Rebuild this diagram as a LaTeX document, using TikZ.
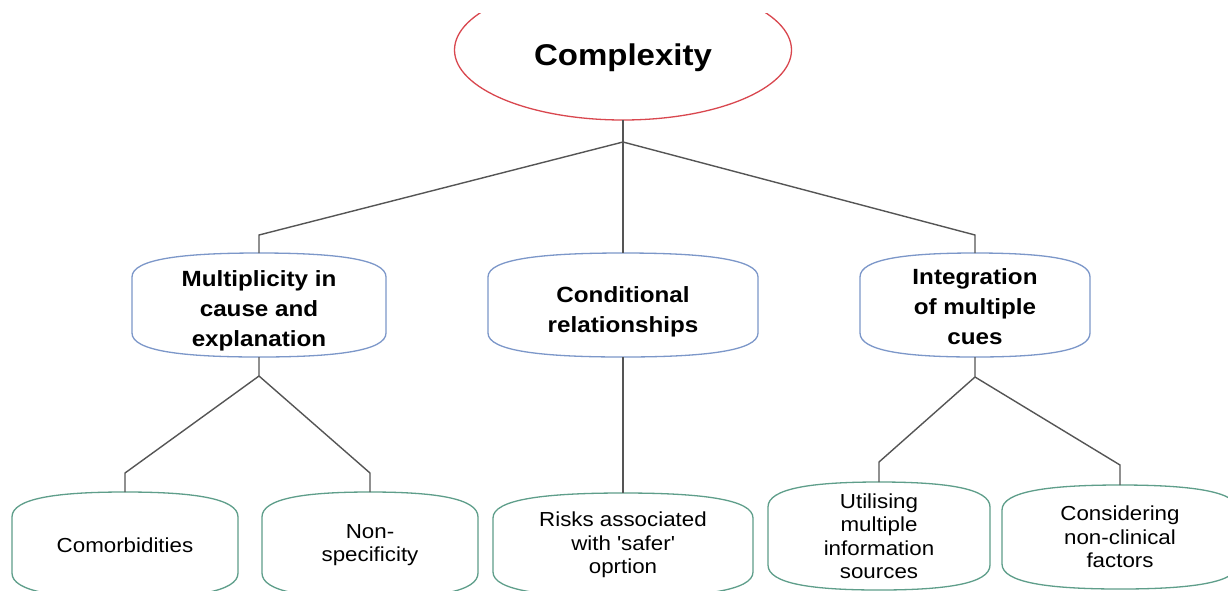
\documentclass[tikz,border=0pt]{standalone}
\usepackage{fontspec}
\setmainfont{Liberation Sans}
\newfontfamily\labelfont[FakeStretch=1.1]{Liberation Sans}
\usetikzlibrary{shapes.geometric,calc}

\definecolor{rootred}{HTML}{D9474F}
\definecolor{midblue}{HTML}{7C97C9}
\definecolor{leafgreen}{HTML}{5E9E8A}
\definecolor{linkgray}{HTML}{555555}

\tikzset{
  conn/.style={draw=linkgray, line width=1.4pt},
  boxtext/.style={align=center, inner sep=0pt, outer sep=0pt, text=black},
  rootbox/.style={ellipse, draw=rootred, line width=1.3pt, inner sep=0pt, outer sep=0pt,
    font=\labelfont\bfseries\fontsize{30}{34}\selectfont},
  midbox/.style={inner sep=0pt, outer sep=0pt, text=black,
    font=\labelfont\bfseries\fontsize{22}{30}\selectfont},
  leafbox/.style={boxtext, font=\labelfont\fontsize{20.3}{23.5}\selectfont},
  midline/.style={draw=midblue, line width=1.3pt},
  leafline/.style={draw=leafgreen, line width=1.3pt},
}

% centred lines of text, lowered by #1 without changing the box the node sees
\newcommand\lowered[2]{\raisebox{-#1}[\height][\depth]{\begin{tabular}{@{}c@{}}#2\end{tabular}}}

% outline with straight sides and bulging top and bottom, drawn round a named node
% #1 draw style, #2 node name, #3 depth of the bulge
\newcommand\barrel[3]{%
  \path[#1] ($(#2.north west)+(0,#3)$)
    .. controls ($(#2.north west)+(0,0.25*#3)$) and ($(#2.north west)!0.2!(#2.north east)$) .. (#2.north)
    .. controls ($(#2.north west)!0.8!(#2.north east)$) and ($(#2.north east)+(0,0.25*#3)$) .. ($(#2.north east)+(0,#3)$)
    -- ($(#2.south east)+(0,-#3)$)
    .. controls ($(#2.south east)+(0,-0.25*#3)$) and ($(#2.south east)!0.2!(#2.south west)$) .. (#2.south)
    .. controls ($(#2.south east)!0.8!(#2.south west)$) and ($(#2.south west)+(0,-0.25*#3)$) .. ($(#2.south west)+(0,-#3)$)
    -- cycle;}

\begin{document}
\begin{tikzpicture}[x=1pt,y=-1pt]
  \fill[white] (0,0) rectangle (1228,590);
  \useasboundingbox (0,0) rectangle (1228,590);
  \clip (0,13) rectangle (1228,590);

  % root
  \node[rootbox, minimum width=337pt, minimum height=140pt] (root) at (623,50)
    {\raisebox{-8pt}[\height][\depth]{Complexity}};

  % second level
  \node[midbox, minimum width=254pt, minimum height=104pt] (m1) at (259,305)
    {\lowered{5pt}{Multiplicity in\\cause and\\explanation}};
  \node[midbox, minimum width=270pt, minimum height=104pt] (m2) at (623,305)
    {\lowered{6pt}{Conditional\\relationships}};
  \node[midbox, minimum width=230pt, minimum height=104pt] (m3) at (975,305)
    {\lowered{3pt}{Integration\\of multiple\\cues}};
  \barrel{midline}{m1}{24}
  \barrel{midline}{m2}{24}
  \barrel{midline}{m3}{24}

  % third level
  \node[leafbox, minimum width=226pt, minimum height=106pt] (b1) at (125,545)
    {Comorbidities};
  \node[leafbox, minimum width=216pt, minimum height=106pt] (b2) at (370,545)
    {Non-\\specificity};
  \node[leafbox, minimum width=260pt, minimum height=104pt] (b3) at (623,545)
    {Risks associated\\with \textquotesingle safer\textquotesingle\\oprtion};
  \node[leafbox, minimum width=222pt, minimum height=108pt] (b4) at (879,536)
    {Utilising\\multiple\\information\\sources};
  \node[leafbox, minimum width=236pt, minimum height=104pt] (b5) at (1120,537)
    {Considering\\non-clinical\\factors};
  \foreach \b in {b1,b2,b3,b4,b5} {\barrel{leafline}{\b}{25}}

  % connectors
  \draw[conn] (root.south) -- (m2.north);
  \draw[conn] (root.south) -- ++(0,22) coordinate (j0)
    -- ($(m1.north)+(0,-18)$) -- (m1.north);
  \draw[conn] (j0) -- ($(m3.north)+(0,-18)$) -- (m3.north);

  \draw[conn] (m1.south) -- ++(0,19) coordinate (j1)
    -- ($(b1.north)+(0,-19)$) -- (b1.north);
  \draw[conn] (j1) -- ($(b2.north)+(0,-19)$) -- (b2.north);

  \draw[conn] (m2.south) -- (b3.north);

  \draw[conn] (m3.south) -- ++(0,20) coordinate (j3)
    -- ($(b4.north)+(0,-20)$) -- (b4.north);
  \draw[conn] (j3) -- ($(b5.north)+(0,-20)$) -- (b5.north);
\end{tikzpicture}
\end{document}
